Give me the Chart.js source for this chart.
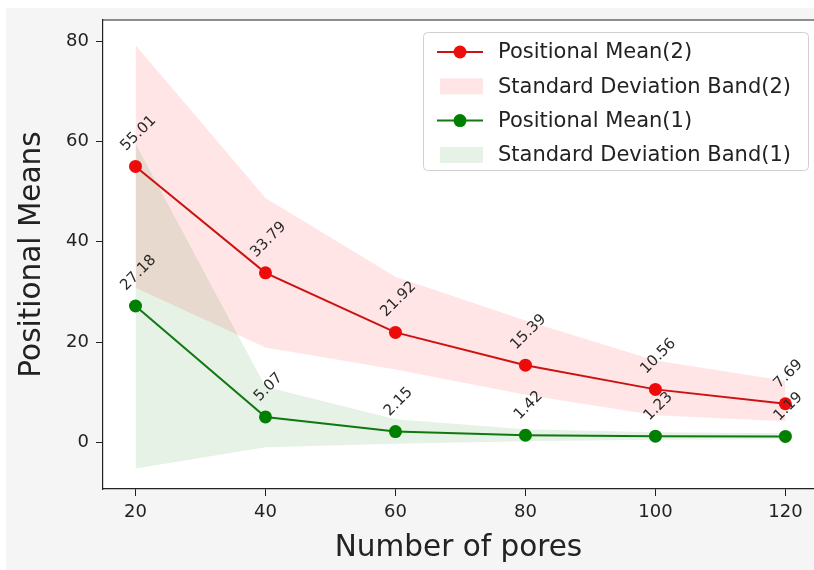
<!DOCTYPE html>
<html>
<head>
<meta charset="utf-8">
<script src="https://cdn.jsdelivr.net/npm/chart.js@4"></script>
<style>
  html, body { margin: 0; padding: 0; background: #fff; }
  #wrap { width: 814px; height: 570px; }
</style>
</head>
<body>
<div id="wrap"><canvas id="chart" width="814" height="570"></canvas></div>
<script>
// values
const pores = [20, 40, 60, 80, 100, 120];
const mean2 = [55.01, 33.79, 21.92, 15.39, 10.56, 7.69];
const upper2 = [79.2, 48.7, 33.0, 24.3, 16.3, 12.3];
const lower2 = [30.8, 18.9, 14.5, 9.5, 5.4, 4.2];
const mean1 = [27.18, 5.07, 2.15, 1.42, 1.23, 1.19];
const upper1 = [59.6, 11.1, 4.6, 2.6, 2.0, 1.8];
const lower1 = [-5.2, -1.0, -0.3, 0.2, 0.5, 0.6];
const xTicks = [20, 40, 60, 80, 100, 120];
const yTicks = [0, 20, 40, 60, 80];

const FONT = 'DejaVu Sans';
const pts = arr => arr.map((v, i) => ({ x: pores[i], y: v }));

const legendItems = [
    { label: 'Positional Mean(2)', type: 'line', line: 'rgb(200,20,20)', point: 'rgb(238,12,12)' },
    { label: 'Standard Deviation Band(2)', type: 'band', fill: 'rgba(255,0,0,0.1)' },
    { label: 'Positional Mean(1)', type: 'line', line: 'rgb(20,120,20)', point: 'rgb(0,128,0)' },
    { label: 'Standard Deviation Band(1)', type: 'band', fill: 'rgba(0,128,0,0.1)' }
];

const backdrop = {
    id: 'backdrop',
    beforeDraw(chart) {
        const { ctx, chartArea: a } = chart;
        ctx.save();
        ctx.fillStyle = '#fff';
        ctx.fillRect(0, 0, chart.width, chart.height);
        ctx.fillStyle = '#f5f5f5';
        ctx.fillRect(6, 8, chart.width - 6, chart.height - 8);
        ctx.fillStyle = '#fff';
        ctx.fillRect(a.left, a.top, a.right - a.left, a.bottom - a.top);
        ctx.restore();
    },
    afterDraw(chart) {
        const { ctx, chartArea: a } = chart;
        ctx.save();
        ctx.strokeStyle = '#222';
        ctx.lineWidth = 1.2;
        ctx.beginPath();
        ctx.moveTo(a.left, a.top);
        ctx.lineTo(chart.width, a.top);
        ctx.stroke();
        ctx.restore();
    }
};

// rotated value labels above each mean point
const valueLabels = {
    id: 'valueLabels',
    afterDatasetsDraw(chart) {
        const { ctx } = chart;
        ctx.save();
        ctx.font = '15px "' + FONT + '"';
        ctx.fillStyle = '#2a2a2a';
        ctx.textAlign = 'center';
        ctx.textBaseline = 'middle';
        [[2, mean2], [5, mean1]].forEach(([idx, vals]) => {
            const meta = chart.getDatasetMeta(idx);
            meta.data.forEach((el, i) => {
                const txt = vals[i].toFixed(2);
                const w = ctx.measureText(txt).width;
                const half = (w + 11) / (2 * Math.SQRT2);
                ctx.save();
                ctx.translate(el.x + 3, el.y - 14 - half);
                ctx.rotate(-Math.PI / 4);
                ctx.fillText(txt, 0, 0);
                ctx.restore();
            });
        });
        ctx.restore();
    }
};

const insideLegend = {
    id: 'insideLegend',
    afterDraw(chart) {
        const { ctx } = chart;
        const x0 = 423, y0 = 32, w = 385, h = 138;
        ctx.save();
        ctx.fillStyle = 'rgba(255,255,255,0.85)';
        ctx.strokeStyle = '#d0d0d0';
        ctx.lineWidth = 1;
        ctx.beginPath();
        ctx.roundRect(x0 + 0.5, y0 + 0.5, w, h, 4);
        ctx.fill();
        ctx.stroke();
        ctx.font = '21px "' + FONT + '"';
        ctx.textBaseline = 'middle';
        legendItems.forEach((it, i) => {
            const cy = 52 + i * 34.3;
            if (it.type === 'line') {
                ctx.strokeStyle = it.line;
                ctx.lineWidth = 2;
                ctx.beginPath();
                ctx.moveTo(437, cy);
                ctx.lineTo(483, cy);
                ctx.stroke();
                ctx.fillStyle = it.point;
                ctx.beginPath();
                ctx.arc(460, cy, 6.5, 0, Math.PI * 2);
                ctx.fill();
            } else {
                ctx.fillStyle = it.fill;
                ctx.fillRect(440, cy - 8, 43, 16);
            }
            ctx.fillStyle = '#222';
            ctx.fillText(it.label, 498, cy + 1);
        });
        ctx.restore();
    }
};

const bandLine = { borderWidth: 0, pointRadius: 0, pointHoverRadius: 0, tension: 0 };

new Chart(document.getElementById('chart'), {
    type: 'line',
    data: {
        datasets: [
            { ...bandLine, label: 'upper2', data: pts(upper2), borderColor: 'transparent', fill: false },
            { ...bandLine, label: 'Standard Deviation Band(2)', data: pts(lower2), borderColor: 'transparent',
              backgroundColor: 'rgba(255,0,0,0.1)', fill: '-1' },
            { label: 'Positional Mean(2)', data: pts(mean2), borderColor: 'rgb(200,20,20)', borderWidth: 2,
              pointRadius: 6.5, pointBackgroundColor: 'rgb(238,12,12)', pointBorderWidth: 0, tension: 0, fill: false },
            { ...bandLine, label: 'upper1', data: pts(upper1), borderColor: 'transparent', fill: false },
            { ...bandLine, label: 'Standard Deviation Band(1)', data: pts(lower1), borderColor: 'transparent',
              backgroundColor: 'rgba(0,128,0,0.1)', fill: '-1' },
            { label: 'Positional Mean(1)', data: pts(mean1), borderColor: 'rgb(20,120,20)', borderWidth: 2,
              pointRadius: 6.5, pointBackgroundColor: 'rgb(0,128,0)', pointBorderWidth: 0, tension: 0, fill: false }
        ]
    },
    options: {
        responsive: false,
        animation: false,
        devicePixelRatio: 1,
        layout: { autoPadding: false, padding: { left: 6, top: 20, right: 0, bottom: 0 } },
        plugins: {
            legend: { display: false },
            tooltip: { enabled: false }
        },
        scales: {
            x: {
                type: 'linear',
                min: 15,
                max: 124.4,
                afterBuildTicks: s => { s.ticks = xTicks.map(v => ({ value: v })); },
                afterFit: s => { s.height = 81; s.paddingLeft = 0; s.paddingRight = 0; },
                grid: { drawOnChartArea: false, drawTicks: true, tickLength: 7, tickColor: '#222' },
                border: { display: true, color: '#222', width: 1.2 },
                ticks: { color: '#222', padding: 6, font: { family: FONT, size: 18 } },
                title: { display: true, text: 'Number of pores', color: '#222',
                         font: { family: FONT, size: 29.5 }, padding: { top: 0, bottom: 4 } }
            },
            y: {
                min: -9.3,
                max: 84.2,
                afterBuildTicks: s => { s.ticks = yTicks.map(v => ({ value: v })); },
                afterFit: s => { s.width = 97; },
                grid: { drawOnChartArea: false, drawTicks: true, tickLength: 7, tickColor: '#222' },
                border: { display: true, color: '#222', width: 1.2 },
                ticks: { color: '#222', padding: 7, font: { family: FONT, size: 18 } },
                title: { display: true, text: 'Positional Means', color: '#222',
                         font: { family: FONT, size: 29.5 }, padding: { top: 9, bottom: 0 } }
            }
        }
    },
    plugins: [backdrop, valueLabels, insideLegend]
});
</script>
</body>
</html>
